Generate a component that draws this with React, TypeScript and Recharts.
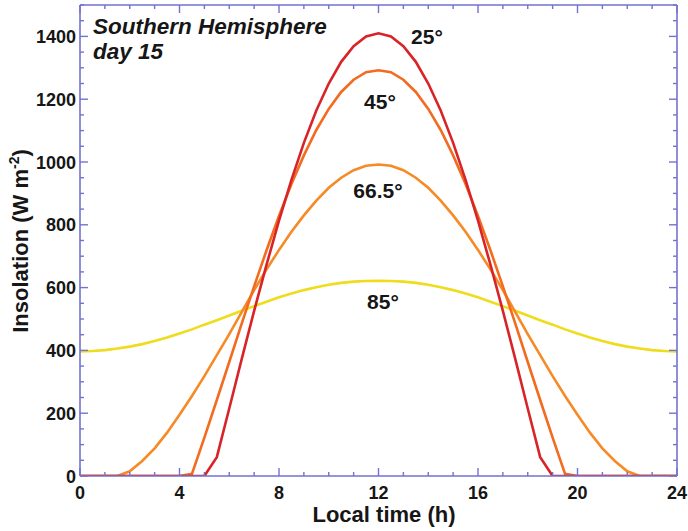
import React from 'react';
import { LineChart, Line, XAxis, YAxis, ReferenceDot } from 'recharts';

const hours = [
  0, 0.5, 1, 1.5, 2, 2.5, 3, 3.5, 4, 4.5, 5, 5.5, 6, 6.5, 7, 7.5, 8, 8.5, 9, 9.5, 10, 10.5, 11, 11.5,
  12, 12.5, 13, 13.5, 14, 14.5, 15, 15.5, 16, 16.5, 17, 17.5, 18, 18.5, 19, 19.5, 20, 20.5, 21, 21.5,
  22, 22.5, 23, 23.5, 24,
];

const lat25 = [
  0, 0, 0, 0, 0, 0, 0, 0, 0, 0, 0,
  60, 215, 372, 526, 673, 813, 943, 1061, 1164, 1250, 1319, 1369, 1400,
  1410,
  1400, 1369, 1319, 1250, 1164, 1061, 943, 813, 673, 526, 372, 215, 60,
  0, 0, 0, 0, 0, 0, 0, 0, 0, 0, 0,
];

const lat45 = [
  0, 0, 0, 0, 0, 0, 0, 0, 0,
  7, 122, 242, 363, 485, 604, 719, 828, 930, 1021, 1102, 1169, 1223, 1262, 1286,
  1292,
  1286, 1262, 1223, 1169, 1102, 1021, 930, 828, 719, 604, 485, 363, 242, 122, 7,
  0, 0, 0, 0, 0, 0, 0, 0, 0,
];

const lat665 = [
  0, 0, 0, 0,
  15, 48, 88, 138, 195, 255, 318, 385, 452, 522, 592, 658, 720, 778, 830, 877, 918, 950, 974, 988,
  992,
  988, 974, 950, 918, 877, 830, 778, 720, 658, 592, 522, 452, 385, 318, 255, 195, 138, 88, 48, 15,
  0, 0, 0, 0,
];

const lat85 = [
  397, 398, 401, 406, 412, 420, 430, 441, 454, 467, 482, 496, 511, 526, 541, 555, 569, 581, 592, 601,
  609, 615, 619, 621,
  622,
  621, 619, 615, 609, 601, 592, 581, 569, 555, 541, 526, 511, 496, 482, 467, 454, 441, 430, 420, 412,
  406, 401, 398, 397,
];

const xTicks = [0, 1, 2, 3, 4, 5, 6, 7, 8, 9, 10, 11, 12, 13, 14, 15, 16, 17, 18, 19, 20, 21, 22, 23, 24];
const yTicks = [
  0, 50, 100, 150, 200, 250, 300, 350, 400, 450, 500, 550, 600, 650, 700, 750, 800, 850, 900, 950,
  1000, 1050, 1100, 1150, 1200, 1250, 1300, 1350, 1400, 1450, 1500,
];

const curveLabels = ['25°', '45°', '66.5°', '85°'];
const curveLabelHour = [13.95, 12.06, 11.98, 12.18];
const curveLabelValue = [1399, 1193, 909, 557];

const data = hours.map((h, i) => ({
  h,
  l25: lat25[i],
  l45: lat45[i],
  l665: lat665[i],
  l85: lat85[i],
}));

const AXIS = '#7272d2';
const FONT = '"Liberation Sans", Arial, Helvetica, sans-serif';
const INK = '#161616';

const BottomTick = (props: any) => {
  const { x, y, payload } = props;
  const v = payload.value;
  const major = v % 4 === 0;
  return (
    <g>
      <line x1={x} x2={x} y1={y} y2={y - (major ? 8 : 4)} stroke={AXIS} strokeWidth={1.4} />
      {major && (
        <text x={x} y={y + 23} textAnchor="middle" fontFamily={FONT} fontWeight="bold" fontSize={18} fill={INK}>
          {v}
        </text>
      )}
    </g>
  );
};

const TopTick = (props: any) => {
  const { x, y, payload } = props;
  const major = payload.value % 4 === 0;
  return <line x1={x} x2={x} y1={y} y2={y + (major ? 8 : 4)} stroke={AXIS} strokeWidth={1.4} />;
};

const LeftTick = (props: any) => {
  const { x, y, payload } = props;
  const v = payload.value;
  const major = v % 200 === 0;
  return (
    <g>
      <line x1={x} x2={x + (major ? 8 : 4)} y1={y} y2={y} stroke={AXIS} strokeWidth={1.4} />
      {major && (
        <text x={x - 4} y={y + 6.5} textAnchor="end" fontFamily={FONT} fontWeight="bold" fontSize={18} fill={INK}>
          {v}
        </text>
      )}
    </g>
  );
};

const RightTick = (props: any) => {
  const { x, y, payload } = props;
  const major = payload.value % 200 === 0;
  return <line x1={x} x2={x - (major ? 8 : 4)} y1={y} y2={y} stroke={AXIS} strokeWidth={1.4} />;
};

export default function App() {
  return (
    <div style={{ position: 'absolute', left: 0, top: 0, width: 688, height: 531, background: '#fff' }}>
      <LineChart width={688} height={531} data={data} margin={{ top: 0, right: 0, bottom: 0, left: 0 }}>
        <XAxis
          dataKey="h"
          type="number"
          domain={[0, 24]}
          ticks={xTicks}
          interval={0}
          tickSize={0}
          tickMargin={0}
          height={55}
          tick={<BottomTick />}
          tickLine={false}
          axisLine={{ stroke: AXIS, strokeWidth: 1.6 }}
          allowDataOverflow
        />
        <XAxis
          xAxisId="top"
          orientation="top"
          dataKey="h"
          type="number"
          domain={[0, 24]}
          ticks={xTicks}
          interval={0}
          tickSize={0}
          tickMargin={0}
          height={5}
          tick={<TopTick />}
          tickLine={false}
          axisLine={{ stroke: AXIS, strokeWidth: 1.6 }}
          allowDataOverflow
        />
        <YAxis
          type="number"
          domain={[0, 1500]}
          ticks={yTicks}
          interval={0}
          tickSize={0}
          tickMargin={0}
          width={80}
          tick={<LeftTick />}
          tickLine={false}
          axisLine={{ stroke: AXIS, strokeWidth: 1.6 }}
          allowDataOverflow
        />
        <YAxis
          yAxisId="right"
          orientation="right"
          type="number"
          domain={[0, 1500]}
          ticks={yTicks}
          interval={0}
          tickSize={0}
          tickMargin={0}
          width={11}
          tick={<RightTick />}
          tickLine={false}
          axisLine={{ stroke: AXIS, strokeWidth: 1.6 }}
          allowDataOverflow
        />
        <Line type="linear" dataKey="l85" stroke="#efdc1c" strokeWidth={2.6} dot={false} activeDot={false} isAnimationActive={false} />
        <Line type="linear" dataKey="l665" stroke="#f68a26" strokeWidth={2.6} dot={false} activeDot={false} isAnimationActive={false} />
        <Line type="linear" dataKey="l45" stroke="#f26b1f" strokeWidth={2.6} dot={false} activeDot={false} isAnimationActive={false} />
        <Line type="linear" dataKey="l25" stroke="#d92427" strokeWidth={2.6} dot={false} activeDot={false} isAnimationActive={false} />
        {curveLabels.map((t, i) => (
          <ReferenceDot
            key={t}
            x={curveLabelHour[i]}
            y={curveLabelValue[i]}
            r={0}
            stroke="none"
            fill="none"
            label={{ value: t, position: 'center', fontFamily: FONT, fontWeight: 'bold', fontSize: 21, fill: INK }}
          />
        ))}
        <text x={93} y={34} fontFamily={FONT} fontWeight="bold" fontStyle="italic" fontSize={22.5} fill={INK}>
          Southern Hemisphere
        </text>
        <text x={93} y={59} fontFamily={FONT} fontWeight="bold" fontStyle="italic" fontSize={22.5} fill={INK}>
          day 15
        </text>
        <text x={384} y={522} textAnchor="middle" fontFamily={FONT} fontWeight="bold" fontSize={22} fill={INK}>
          Local time (h)
        </text>
        <text
          x={28}
          y={241}
          transform="rotate(-90 28 241)"
          textAnchor="middle"
          fontFamily={FONT}
          fontWeight="bold"
          fontSize={22}
          fill={INK}
        >
          Insolation (W m
          <tspan fontSize={14} dy={-9}>-2</tspan>
          <tspan dy={9}>)</tspan>
        </text>
      </LineChart>
    </div>
  );
}
